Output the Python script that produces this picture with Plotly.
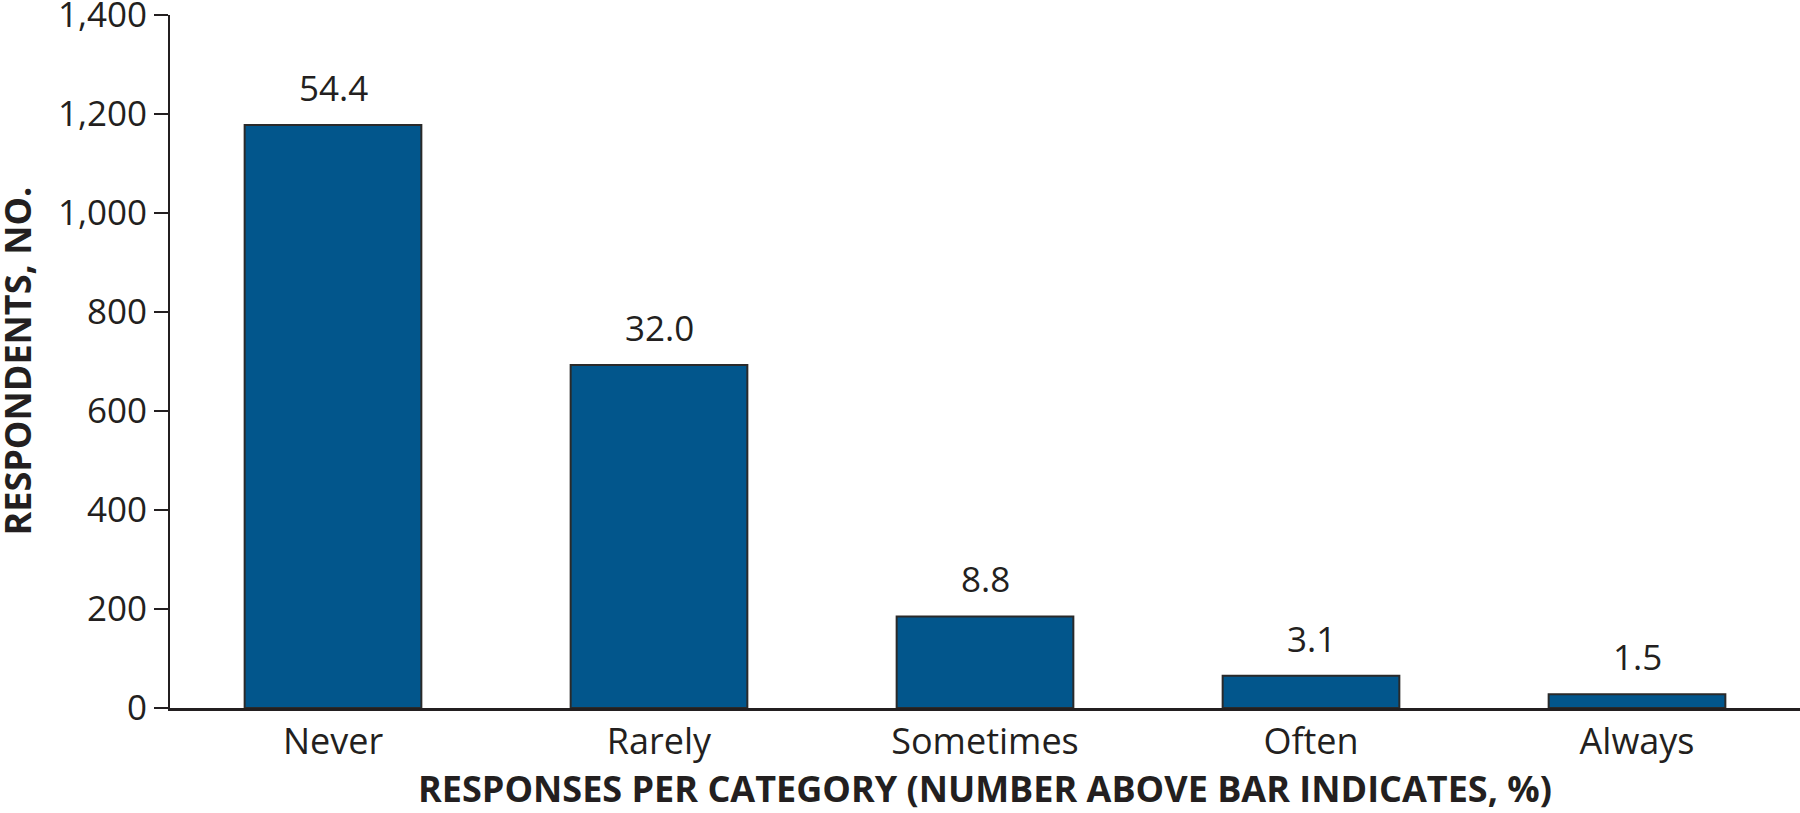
import plotly.graph_objects as go

categories = ["Never", "Rarely", "Sometimes", "Often", "Always"]
respondents = [1178, 693, 185, 65, 28]
percent_labels = ["54.4", "32.0", "8.8", "3.1", "1.5"]
y_ticks = [0, 200, 400, 600, 800, 1000, 1200, 1400]
y_tick_text = ["0", "200", "400", "600", "800", "1,000", "1,200", "1,400"]

TXT = "#231f20"
FONT = "Open Sans"

fig = go.Figure()
fig.add_trace(go.Bar(
    x=categories, y=respondents,
    marker=dict(color="#02568c", line=dict(color="#2a2a2a", width=2)),
    showlegend=False, hoverinfo="skip",
))
for c, v, t in zip(categories, respondents, percent_labels):
    fig.add_annotation(x=c, y=v, text=t, showarrow=False, yanchor="bottom",
                       yshift=12, font=dict(family=FONT, size=35, color=TXT))

# y-axis title as a rotated annotation for exact placement
fig.add_annotation(xref="paper", yref="paper", x=0, y=0.5, xshift=-153,
                   text="<b>RESPONDENTS, NO.</b>", textangle=-90, showarrow=False,
                   xanchor="center", yanchor="middle",
                   font=dict(family=FONT, size=36, color=TXT))

fig.update_layout(
    width=1800, height=813,
    margin=dict(l=170, r=0, t=15, b=105, pad=0),
    paper_bgcolor="white", plot_bgcolor="white",
    bargap=0.458,
    font=dict(family=FONT, size=35, color=TXT),
    xaxis=dict(
        type="category", range=[-0.5, 4.5], automargin=False,
        showline=True, linecolor=TXT, linewidth=2.5,
        ticks="", showgrid=False, zeroline=False,
        tickfont=dict(family=FONT, size=36, color=TXT),
        title=dict(text="<b>RESPONSES PER CATEGORY (NUMBER ABOVE BAR INDICATES, %)</b>",
                   font=dict(family=FONT, size=36, color=TXT), standoff=14),
    ),
    yaxis=dict(
        range=[0, 1400], tickvals=y_ticks, ticktext=y_tick_text, automargin=False,
        showline=True, linecolor=TXT, linewidth=2,
        ticks="outside", ticklen=14, tickwidth=2, tickcolor=TXT,
        ticklabeloverflow="allow",
        showgrid=False, zeroline=False,
        tickfont=dict(family=FONT, size=35, color=TXT),
    ),
)

fig.write_html("out.html", config={"displayModeBar": False},
               post_script="document.body.style.margin='0';")
